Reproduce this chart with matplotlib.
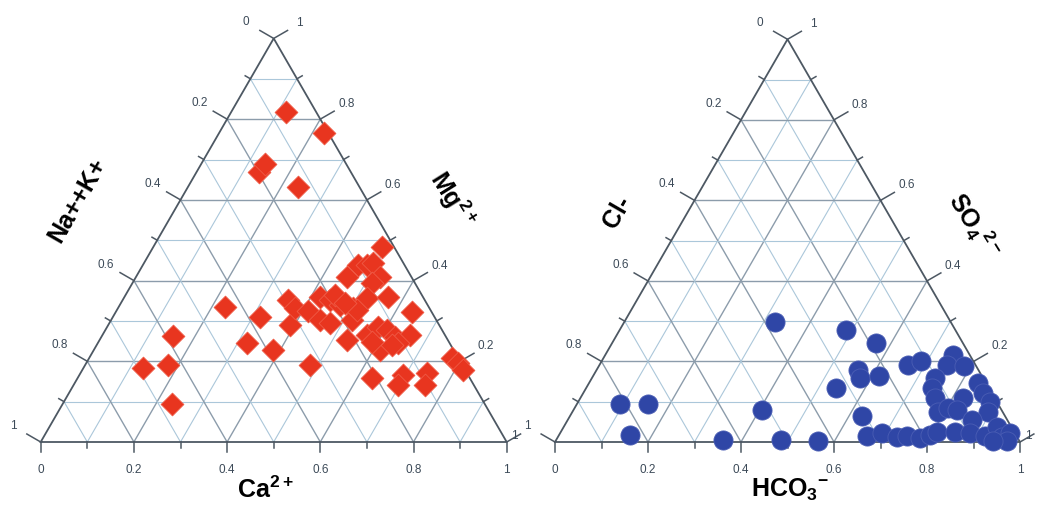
import numpy as np
import matplotlib.pyplot as plt

plt.rcParams['font.family'] = ['Liberation Sans', 'DejaVu Sans']
plt.rcParams['mathtext.fontset'] = 'custom'
plt.rcParams['mathtext.rm'] = 'Liberation Sans'
plt.rcParams['mathtext.bf'] = 'Liberation Sans:bold'

# cations (fractions): Ca2+ along the bottom, Mg2+ toward the apex, Na++K+ = rest
ca = [0.117, 0.225, 0.134, 0.137, 0.236, 0.491, 0.462, 0.481, 0.491, 0.524,
      0.514, 0.453, 0.228, 0.316, 0.153, 0.128, 0.178, 0.235, 0.320, 0.384,
      0.390, 0.355, 0.380, 0.411, 0.483, 0.420, 0.445, 0.473, 0.504, 0.517,
      0.448, 0.473, 0.522, 0.566, 0.636, 0.531, 0.567, 0.581, 0.604, 0.630,
      0.660, 0.614, 0.644, 0.632, 0.695, 0.696, 0.744, 0.754, 0.779, 0.798,
      0.817, 0.515, 0.450, 0.481, 0.634, 0.587]
mg = [0.818, 0.766, 0.669, 0.689, 0.632, 0.483, 0.439, 0.439, 0.444, 0.409,
      0.394, 0.409, 0.335, 0.310, 0.263, 0.183, 0.191, 0.094, 0.245, 0.228,
      0.290, 0.352, 0.332, 0.325, 0.191, 0.359, 0.352, 0.339, 0.332, 0.302,
      0.302, 0.295, 0.357, 0.359, 0.322, 0.253, 0.265, 0.285, 0.278, 0.260,
      0.265, 0.228, 0.245, 0.159, 0.166, 0.141, 0.171, 0.141, 0.208, 0.196,
      0.178, 0.327, 0.364, 0.344, 0.240, 0.248]

# anions (fractions): HCO3- along the bottom, SO42- toward the apex, Cl- = rest
hco3 = [0.093, 0.153, 0.152, 0.405, 0.359, 0.484, 0.565, 0.324, 0.487, 0.567,
        0.537, 0.563, 0.577, 0.615, 0.628, 0.664, 0.692, 0.729, 0.750, 0.780,
        0.797, 0.809, 0.663, 0.686, 0.748, 0.747, 0.785, 0.738, 0.744, 0.762,
        0.787, 0.803, 0.822, 0.824, 0.837, 0.859, 0.885, 0.894, 0.870, 0.848,
        0.881, 0.918, 0.931, 0.955, 0.967, 0.971, 0.941]
so4 = [0.094, 0.094, 0.017, 0.079, 0.005, 0.005, 0.003, 0.298, 0.278, 0.246,
       0.134, 0.179, 0.159, 0.164, 0.065, 0.015, 0.022, 0.012, 0.015, 0.010,
       0.017, 0.025, 0.191, 0.201, 0.216, 0.191, 0.189, 0.159, 0.134, 0.109,
       0.074, 0.084, 0.109, 0.079, 0.146, 0.122, 0.099, 0.074, 0.055, 0.025,
       0.022, 0.015, 0.037, 0.012, 0.022, 0.002, 0.002]

ticks = [0, 0.2, 0.4, 0.6, 0.8, 1]
tick_labels = ['0', '0.2', '0.4', '0.6', '0.8', '1']
right_labels = ['1', '0.2', '0.4', '0.6', '0.8', '1']

EDGE = '#4d5863'
MAJOR = '#8c9cab'
MINOR = '#abc7da'
TXT = '#3c4a58'

fig = plt.figure(figsize=(10.43, 5.12), dpi=100)
ax = fig.add_axes([0, 0, 1, 1])
ax.set_xlim(0, 1043)
ax.set_ylim(512, 0)
ax.axis('off')


def tern(corner, bottom, top):
    x0, y0, w = corner
    h = w * np.sqrt(3) / 2
    bottom = np.asarray(bottom, float)
    top = np.asarray(top, float)
    return x0 + w * (bottom + top / 2), y0 - h * top


def draw_frame(corner):
    s3 = np.sqrt(3) / 2
    for v in np.arange(1, 10) / 10:
        major = round(v * 10) % 2 == 0
        col, lw = (MAJOR, 1.0) if major else (MINOR, 0.8)
        segs = [((0, v), (1 - v, v)),
                ((v, 0), (v, 1 - v)),
                ((1 - v, 0), (0, 1 - v))]
        for a, b in segs:
            xa, ya = tern(corner, *a)
            xb, yb = tern(corner, *b)
            ax.plot([xa, xb], [ya, yb], color=col, lw=lw, zorder=1)
    xs, ys = tern(corner, [0, 1, 0, 0], [0, 0, 1, 0])
    ax.plot(xs, ys, color=EDGE, lw=1.3, zorder=2, solid_joinstyle='miter')

    for i in range(11):
        v = i / 10
        major = i % 2 == 0
        # bottom axis
        x, y = tern(corner, v, 0)
        L = 10 if major else 6
        ax.plot([x, x], [y, y + L], color=EDGE, lw=1.1, zorder=2)
        # left axis (value grows toward bottom-left)
        x, y = tern(corner, 0, 1 - v)
        L = 16 if major else 6
        ax.plot([x, x - s3 * L], [y, y - 0.5 * L], color=EDGE, lw=1.1, zorder=2)
        # right axis (value grows toward apex)
        x, y = tern(corner, 1 - v, v)
        ax.plot([x, x + s3 * L], [y, y - 0.5 * L], color=EDGE, lw=1.1, zorder=2)

    for v, lab in zip(ticks, tick_labels):
        x, y = tern(corner, v, 0)
        ax.text(x, y + 28, lab, ha='center', va='center', fontsize=8.5, color=TXT)
        x, y = tern(corner, 0, 1 - v)
        ax.text(x - s3 * 32, y - 0.5 * 32, lab, ha='center', va='center',
                fontsize=8.5, color=TXT)
    for v, lab in zip(ticks, right_labels):
        x, y = tern(corner, 1 - v, v)
        if v == 0:
            # corner label sits tight against the bottom-right vertex
            ax.text(x + 8, y - 6, lab, ha='center', va='center',
                    fontsize=8.5, color=TXT)
        else:
            ax.text(x + s3 * 30, y - 0.5 * 30, lab, ha='center', va='center',
                    fontsize=8.5, color=TXT)


left = (40.7, 442, 466)
right = (555, 442, 465)

draw_frame(left)
draw_frame(right)

x, y = tern(left, ca, mg)
ax.scatter(x, y, marker='D', s=135, color='#e8351f', edgecolors='#ef5a45',
           linewidths=0.6, zorder=3)
x, y = tern(right, hco3, so4)
ax.scatter(x, y, marker='o', s=190, color='#2f46a6', edgecolors='#4a5db4',
           linewidths=0.6, zorder=3)

title_kw = dict(fontsize=18, fontweight='bold', color='black',
                ha='center', va='center')
ax.text(78, 200, 'Na++K+', rotation=60, **title_kw)
ax.text(452, 200, r'$\mathbf{Mg^{2+}}$', rotation=-58, **title_kw)
ax.text(265, 490, r'$\mathbf{Ca^{2+}}$', **title_kw)
ax.text(617, 212, 'Cl-', rotation=60, **title_kw)
ax.text(974, 225, r'$\mathbf{SO_4{}^{2-}}$', rotation=-58, **title_kw)
ax.text(790, 490, r'$\mathbf{HCO_3{}^{-}}$', **title_kw)

fig.savefig('out.png', dpi=100)
